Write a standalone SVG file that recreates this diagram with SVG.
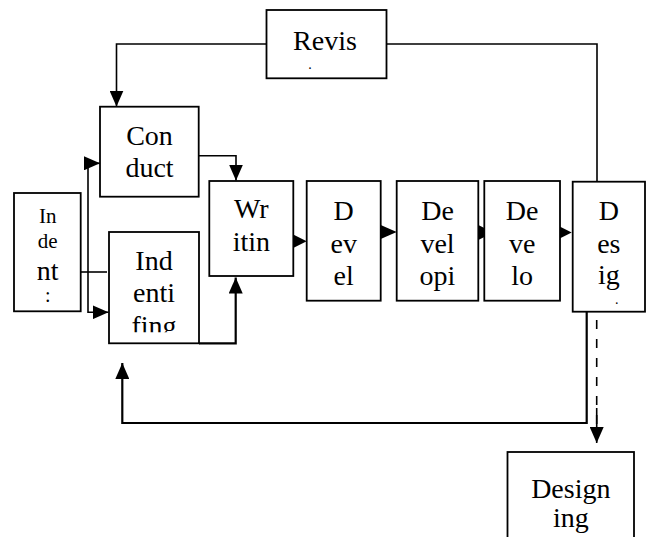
<svg xmlns="http://www.w3.org/2000/svg" width="647" height="537" viewBox="0 0 647 537">
<style>
.box{fill:#fff;stroke:#000;stroke-width:1.8}
.t{font-family:"Liberation Serif","Times New Roman",serif;font-size:28px;fill:#000;text-anchor:middle}
.s{font-size:21px}
.dot{font-size:14px}
.ln{fill:none;stroke:#000;stroke-width:1.6}
.th{fill:none;stroke:#000;stroke-width:2.2}
.ah{fill:#000;stroke:none}
</style>
<defs>
<marker id="arr" viewBox="0 0 16 14" refX="16" refY="7" markerWidth="16" markerHeight="14" markerUnits="userSpaceOnUse" orient="auto">
<path d="M0,0 L16,7 L0,14 Z" fill="#000"/>
</marker>
<clipPath id="clipInd"><rect x="109" y="232" width="90" height="100.3"/></clipPath>
</defs>
<rect width="647" height="537" fill="#fff"/>
<g id="connectors">
<path class="ln" d="M266.5,44 H116.5 V106.5" marker-end="url(#arr)"/>
<path class="ln" d="M386.5,44 H597 V181.5"/>
<path class="ln" d="M198.7,155.7 H236 V180.5" marker-end="url(#arr)"/>
<path class="ln" d="M86,163.3 H100" marker-end="url(#arr)"/>
<path class="ln" d="M88,163.3 V312.3 H108.5" marker-end="url(#arr)"/>
<path class="ln" d="M80.7,272 H107"/>
<path class="th" d="M199,343.3 H235.7 V277.5" marker-end="url(#arr)"/>
<polygon class="ah" points="292.7,234.3 306.7,241.3 292.7,248.3"/>
<polygon class="ah" points="380.7,225 396.7,232 380.7,239"/>
<polygon class="ah" points="478.3,225 493.3,232.5 478.3,240"/>
<polygon class="ah" points="556.7,225 571.7,232.5 556.7,240"/>
<path class="th" d="M586.7,311.7 V423 H122.3 V363" marker-end="url(#arr)"/>
<path class="ln" d="M596.7,320 V428" stroke-dasharray="9,10"/>
<path class="ln" d="M596.7,408 V443" marker-end="url(#arr)"/>
</g>
<g id="revis">
<rect class="box" x="266.5" y="10" width="120" height="68.3"/>
<text class="t" x="325" y="50">Revis</text>
<text class="t dot" x="310" y="69">.</text>
</g>
<g id="conduct">
<rect class="box" x="100" y="106.7" width="98.7" height="90"/>
<text class="t" x="149.5" y="145">Con</text>
<text class="t" x="149.5" y="176.7">duct</text>
</g>
<g id="indent">
<rect class="box" x="14" y="193" width="66.7" height="118.3"/>
<text class="t s" x="47.7" y="223">In</text>
<text class="t s" x="47.7" y="248">de</text>
<text class="t" x="47.7" y="279.7">nt</text>
<text class="t" x="47.7" y="302" style="font-size:20px">:</text>
</g>
<g id="indentifing">
<rect class="box" x="109" y="232" width="90" height="111.3"/>
<g clip-path="url(#clipInd)">
<text class="t" x="154" y="270">Ind</text>
<text class="t" x="154" y="302.3">enti</text>
<text class="t" x="154" y="334.5">fing</text>
</g>
</g>
<g id="writin">
<rect class="box" x="209.3" y="181" width="84" height="95"/>
<text class="t" x="251.3" y="218.3">Wr</text>
<text class="t" x="251.3" y="251">itin</text>
</g>
<g id="devel">
<rect class="box" x="306.7" y="181" width="74" height="119.7"/>
<text class="t" x="343.7" y="220">D</text>
<text class="t" x="343.7" y="252.5">ev</text>
<text class="t" x="343.7" y="284.5">el</text>
</g>
<g id="developi">
<rect class="box" x="396.7" y="181" width="81.6" height="119.7"/>
<text class="t" x="437.5" y="220">De</text>
<text class="t" x="437.5" y="252.5">vel</text>
<text class="t" x="437.5" y="284.5">opi</text>
</g>
<g id="develo">
<rect class="box" x="484.3" y="181" width="75.7" height="119.7"/>
<text class="t" x="522.2" y="220">De</text>
<text class="t" x="522.2" y="252.5">ve</text>
<text class="t" x="522.2" y="284.5">lo</text>
</g>
<g id="desig">
<rect class="box" x="572.7" y="181.7" width="72.3" height="130"/>
<text class="t" x="608.8" y="220">D</text>
<text class="t" x="608.8" y="252.5">es</text>
<text class="t" x="608.8" y="284">ig</text>
<text class="t dot" x="616.7" y="304">.</text>
</g>
<g id="designing">
<rect class="box" x="507.5" y="452" width="126.5" height="90"/>
<text class="t" x="570.8" y="498">Design</text>
<text class="t" x="570.8" y="527">ing</text>
</g>
</svg>
